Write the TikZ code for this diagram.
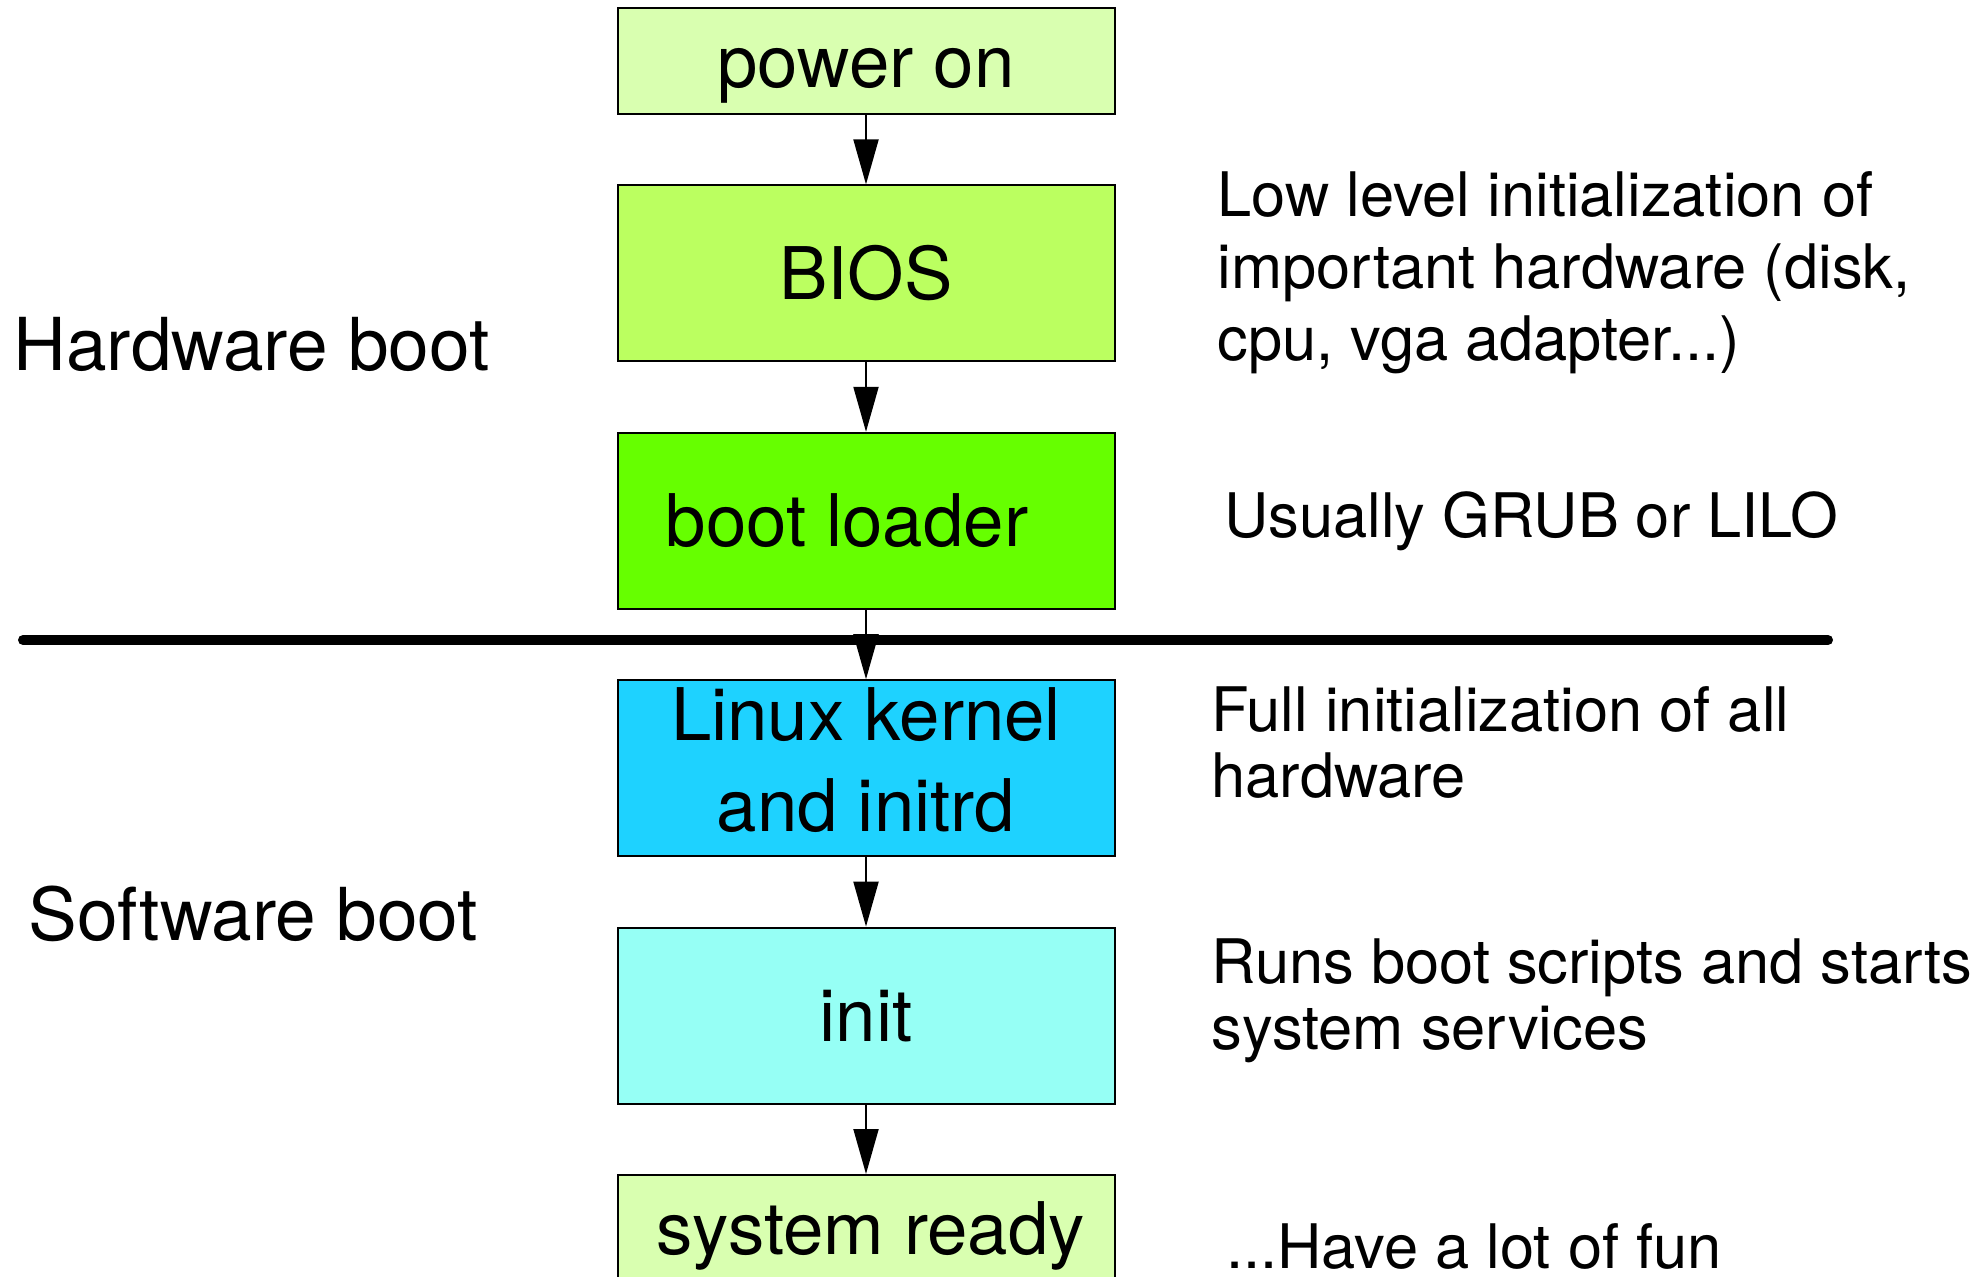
\documentclass[tikz,border=0pt]{standalone}
\usepackage{fontspec}
\setmainfont{TeX Gyre Heros}
\usepackage{xcolor}
\usetikzlibrary{positioning,arrows.meta}

\definecolor{paleGreen}{RGB}{217,255,176}
\definecolor{limeGreen}{RGB}{187,255,96}
\definecolor{brightGreen}{RGB}{102,255,0}
\definecolor{skyBlue}{RGB}{30,210,255}
\definecolor{paleCyan}{RGB}{150,255,245}

\begin{document}
\begin{tikzpicture}[x=0.5pt, y=-0.5pt,
    stage/.style={draw, line width=1pt, minimum width=248.5pt, minimum height=88pt, inner sep=0pt, align=center, text height=30pt, text depth=4pt, font=\fontsize{36.3}{45.5}\selectfont},
    note/.style={anchor=base west, align=left, inner sep=0pt, font=\fontsize{30.7}{36}\selectfont},
    phase/.style={anchor=base west, inner sep=0pt, font=\fontsize{36.5}{42}\selectfont},
    flow/.style={line width=1pt, -{Triangle[length=22.5pt, width=12.5pt]}},
    node distance=34.7pt]
    \useasboundingbox (0,0) rectangle (1986,1276);
    \node[stage, fill=paleGreen, minimum height=53pt] (power) at (866,61) {power on};
    \node[stage, fill=limeGreen, below=of power] (bios) {BIOS};
    \node[stage, fill=brightGreen, below=of bios] (loader) {boot loader\hspace*{19pt}};
    \node[stage, fill=skyBlue, below=of loader, text height=67pt] (kernel) {Linux kernel\\and initrd};
    \node[stage, fill=paleCyan, below=of kernel] (init) {init};
    \node[stage, fill=paleGreen, below=of init, minimum height=53pt] (ready) {\hspace*{4.5pt}system ready};
    \draw[line width=5pt, line cap=round] (23,640) -- (1828,640);
    \draw[flow] (power) -- (bios);
    \draw[flow] (bios) -- (loader);
    \draw[flow] (loader) -- (kernel);
    \draw[flow] (kernel) -- (init);
    \draw[flow] (init) -- (ready);
    \node[phase] (hwboot) at (13,370) {Hardware boot};
    \node[phase] (swboot) at (28,940) {Software boot};
    \node[note] (biosnote) at (1217,360) {Low level initialization of\\important hardware (disk,\\cpu, vga adapter...)};
    \node[note] (loadernote) at (1224,537) {Usually GRUB or LILO};
    \node[note, font=\fontsize{30.7}{33}\selectfont] (kernelnote) at (1211,797) {Full initialization of all\\hardware};
    \node[note, font=\fontsize{30.7}{33}\selectfont] (initnote) at (1211,1049) {Runs boot scripts and starts\\system services};
    \node[note] (readynote) at (1226,1268) {...Have a lot of fun};
\end{tikzpicture}
\end{document}
